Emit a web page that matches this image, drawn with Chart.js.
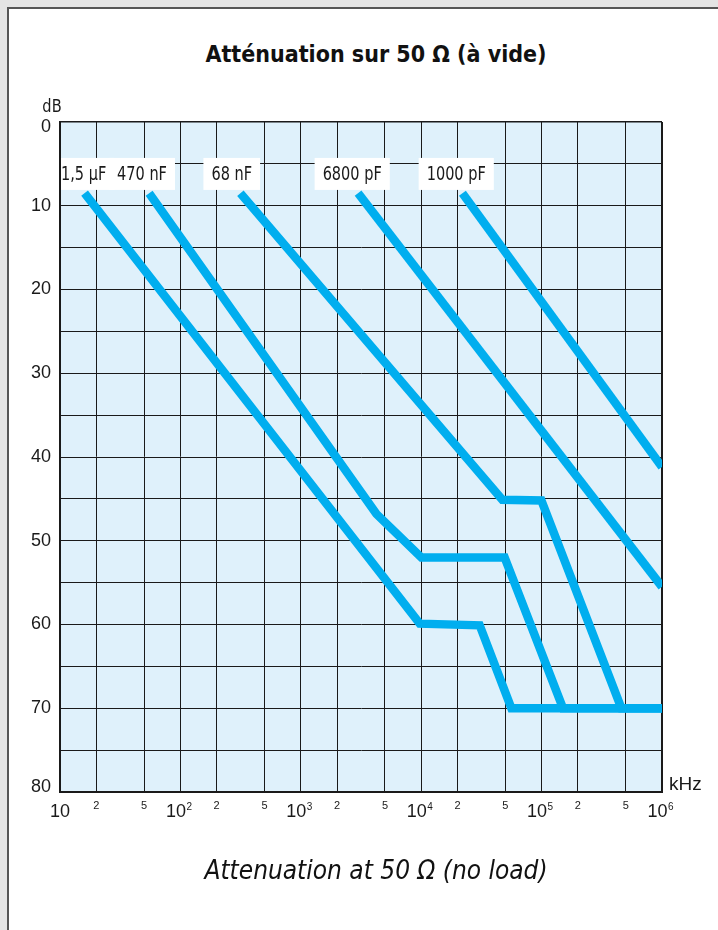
<!DOCTYPE html>
<html>
<head>
<meta charset="utf-8">
<script src="https://cdn.jsdelivr.net/npm/chart.js@4.4.1/dist/chart.umd.min.js"></script>
<style>
  html, body { margin: 0; padding: 0; width: 718px; height: 930px; overflow: hidden; background: #e4e4e4; }
  #sheet { position: absolute; left: 7px; top: 7px; width: 711px; height: 923px; background: #fff;
           border-left: 2px solid #555; border-top: 2px solid #555; box-sizing: border-box; }
  #plot { position: absolute; left: 0; top: 0; }
  .caption { position: absolute; left: 126px; width: 500px; text-align: center; color: #111; white-space: nowrap; }
  #title { top: 41px; font: bold 23px 'DejaVu Sans Condensed', 'Liberation Sans', sans-serif; }
  #subtitle { top: 855px; font: italic 26px 'DejaVu Sans Condensed', 'Liberation Sans', sans-serif; }
</style>
</head>
<body>
<div id="sheet"></div>
<div class="caption" id="title">Atténuation sur 50 Ω (à vide)</div>
<canvas id="plot" width="718" height="930"></canvas>
<div class="caption" id="subtitle">Attenuation at 50 Ω (no load)</div>
<script>
// Frequency axis (kHz, logarithmic): grid positions, printed labels and decade exponents
const freqTicks = [10, 20, 50, 100, 200, 500, 1e3, 2e3, 5e3, 1e4, 2e4, 5e4, 1e5, 2e5, 5e5, 1e6];
const freqTickLabels = ['10', '2', '5', '10', '2', '5', '10', '2', '5', '10', '2', '5', '10', '2', '5', '10'];
const freqTickExponents = ['', '', '', '2', '', '', '3', '', '', '4', '', '', '5', '', '', '6'];

// Attenuation axis (dB)
const dbMin = 0;
const dbMax = 80;
const dbGridStep = 5;
const dbLabelStep = 10;

// Capacitor values
const capacitors = ['1,5 µF', '470 nF', '68 nF', '6800 pF', '1000 pF'];

// Attenuation curves: frequency (kHz) and attenuation (dB) of each break point
const freq_1u5F  = [16, 9720, 30600, 56100, 1e6];
const att_1u5F   = [8.5, 59.9, 60.1, 70, 70];
const freq_470nF = [55, 4250, 10040, 49300, 150600, 1e6];
const att_470nF  = [8.5, 46.8, 52.0, 52.0, 70, 70];
const freq_68nF  = [315, 47200, 99600, 460000, 1e6];
const att_68nF   = [8.5, 45.1, 45.2, 70, 70];
const freq_6800pF = [2990, 1e6];
const att_6800pF  = [8.5, 55.5];
const freq_1000pF = [22000, 1e6];
const att_1000pF  = [8.5, 41.2];

// Where each capacitor tag sits (kHz, dB)
const tagFreq = [15.7, 48, 267, 2673, 19540];
const tagDb   = [6.2, 6.2, 6.2, 6.2, 6.2];

const curveFreqs = [freq_1u5F, freq_470nF, freq_68nF, freq_6800pF, freq_1000pF];
const curveAtts  = [att_1u5F, att_470nF, att_68nF, att_6800pF, att_1000pF];

const LINE_BLUE = '#00aeef';
const GRID = '#1a1a1a';
const TEXT = '#1a1a1a';
const SANS = "'Liberation Sans', Arial, sans-serif";
const NARROW = "'DejaVu Sans Condensed', 'Liberation Sans', sans-serif";

const datasets = capacitors.map((name, i) => ({
  label: name,
  data: curveFreqs[i].map((f, k) => ({ x: f, y: curveAtts[i][k] })),
  borderColor: LINE_BLUE,
  borderWidth: 8.5,
  borderCapStyle: 'butt',
  borderJoinStyle: 'miter',
  pointRadius: 0,
  tension: 0,
  fill: false,
  clip: 0
}));

// Light blue plotting field
const plotFill = {
  id: 'plotFill',
  beforeDraw(chart) {
    const { ctx, chartArea: a } = chart;
    ctx.save();
    ctx.fillStyle = '#dff1fb';
    ctx.fillRect(a.left, a.top, a.right - a.left, a.bottom - a.top);
    ctx.restore();
  }
};

// Capacitor tags on white boxes, decade exponents, and the axis unit labels
const curveTags = {
  id: 'curveTags',
  afterDatasetsDraw(chart) {
    const { ctx, chartArea: a, scales } = chart;
    const pad = 8;
    const half = 16;
    const squeeze = 0.85;
    ctx.save();
    ctx.font = '19px ' + NARROW;
    const spots = capacitors.map((name, i) => ({
      name,
      x: scales.x.getPixelForValue(tagFreq[i]),
      y: scales.y.getPixelForValue(tagDb[i]),
      w: ctx.measureText(name).width * squeeze
    }));
    ctx.fillStyle = '#ffffff';
    spots.forEach(s => {
      const l = Math.max(a.left + 1, s.x - s.w / 2 - pad);
      const r = Math.min(a.right - 1, s.x + s.w / 2 + pad);
      ctx.fillRect(l, s.y - half, r - l, 2 * half);
    });
    ctx.fillStyle = TEXT;
    ctx.textAlign = 'center';
    ctx.textBaseline = 'middle';
    spots.forEach(s => {
      ctx.save();
      ctx.translate(s.x, s.y);
      ctx.scale(squeeze, 1);
      ctx.fillText(s.name, 0, 1);
      ctx.restore();
    });

    // decade exponents beside the "10" tick labels
    ctx.font = '10px ' + SANS;
    ctx.textAlign = 'left';
    ctx.textBaseline = 'top';
    freqTicks.forEach((v, i) => {
      if (!freqTickExponents[i]) return;
      const x = scales.x.getPixelForValue(v);
      ctx.fillText(freqTickExponents[i], x + 6, a.bottom + 10);
    });

    // unit labels
    ctx.save();
    ctx.font = '18px ' + NARROW;
    ctx.textAlign = 'center';
    ctx.textBaseline = 'alphabetic';
    ctx.translate(a.left - 8, a.top - 10);
    ctx.scale(0.9, 1);
    ctx.fillText('dB', 0, 0);
    ctx.restore();
    ctx.font = '19px ' + SANS;
    ctx.textAlign = 'left';
    ctx.textBaseline = 'bottom';
    ctx.fillText('kHz', a.right + 7, a.bottom + 2);
    ctx.restore();
  }
};

new Chart(document.getElementById('plot'), {
  type: 'line',
  data: { datasets },
  plugins: [plotFill, curveTags],
  options: {
    responsive: false,
    animation: false,
    devicePixelRatio: 1,
    layout: { padding: { left: 0, top: 122, right: 56, bottom: 98 } },
    plugins: { legend: { display: false }, tooltip: { enabled: false }, title: { display: false } },
    scales: {
      x: {
        type: 'logarithmic',
        min: freqTicks[0],
        max: freqTicks[freqTicks.length - 1],
        afterBuildTicks(scale) { scale.ticks = freqTicks.map(v => ({ value: v })); },
        afterFit(scale) { scale.height = 40; },
        grid: {
          color: GRID,
          lineWidth: ctx => (ctx.tick && ctx.tick.value === freqTicks[freqTicks.length - 1] ? 2 : 1),
          drawTicks: false
        },
        border: { display: true, color: GRID, width: 2 },
        ticks: {
          autoSkip: false,
          maxRotation: 0,
          padding: 7.5,
          color: TEXT,
          font: ctx => {
            const i = ctx.tick ? freqTicks.indexOf(ctx.tick.value) : 0;
            const decade = i % 3 === 0;
            return decade ? { family: SANS, size: 18, lineHeight: 1.35 } : { family: SANS, size: 11, lineHeight: 1.2 };
          },
          callback: v => {
            const i = freqTicks.indexOf(v);
            if (i < 0) return '';
            return freqTickExponents[i] ? freqTickLabels[i] + '\u2002' : freqTickLabels[i];
          }
        }
      },
      y: {
        type: 'linear',
        reverse: true,
        min: dbMin,
        max: dbMax,
        afterFit(scale) { scale.width = 60; },
        grid: {
          color: GRID,
          lineWidth: ctx => (ctx.tick && ctx.tick.value === dbMin ? 1.5 : 1),
          drawTicks: false
        },
        border: { display: true, color: GRID, width: 2 },
        ticks: {
          stepSize: dbGridStep,
          padding: 9,
          color: TEXT,
          // the end labels sit just inside the frame
          font: ctx => {
            const v = ctx.tick ? ctx.tick.value : 10;
            const edge = v === dbMin || v === dbMax;
            return { family: SANS, size: 18, lineHeight: edge ? 0.55 : 1.2 };
          },
          callback: v => {
            if (v % dbLabelStep !== 0) return '';
            if (v === dbMin) return ['', String(v)];
            if (v === dbMax) return [String(v), ''];
            return String(v);
          }
        }
      }
    }
  }
});
</script>
</body>
</html>
